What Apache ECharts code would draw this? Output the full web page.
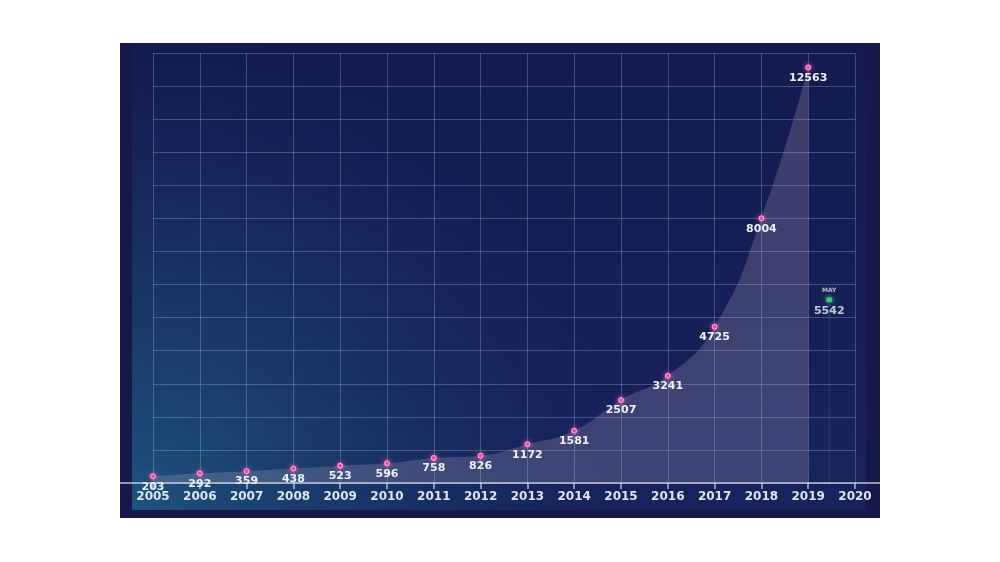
<!DOCTYPE html>
<html><head><meta charset="utf-8">
<script src="https://cdn.jsdelivr.net/npm/echarts@6/dist/echarts.min.js"></script>
<style>html,body{margin:0;padding:0;background:#fff}#c{width:1000px;height:562px}</style>
</head><body><div id="c"></div>
<script>
const years = [2005,2006,2007,2008,2009,2010,2011,2012,2013,2014,2015,2016,2017,2018,2019];
const values = [203,292,359,438,523,596,758,826,1172,1581,2507,3241,4725,8004,12563];
const mayLabel = 'MAY';
const mayX = 2019.45;
const mayValue = 5542;

const chart = echarts.init(document.getElementById('c'));
const font = 'DejaVu Sans';
chart.setOption({
  backgroundColor: '#ffffff',
  animation: false,
  graphic: [
    {type:'rect', z:-10, shape:{x:120,y:43,width:760,height:475}, style:{fill:'#151849'}},
    {type:'rect', z:-9, shape:{x:132,y:44,width:734,height:466},
     style:{fill:{type:'linear',x:0,y:0,x2:0,y2:1,colorStops:[
       {offset:0,color:'#141a4f'},{offset:1,color:'#17245c'}]}}},
    {type:'rect', z:-8, shape:{x:132,y:44,width:734,height:466},
     style:{fill:{type:'radial',x:0,y:1,r:1.05,colorStops:[
       {offset:0,color:'rgba(30,88,128,0.9)'},{offset:0.5,color:'rgba(28,72,115,0.45)'},{offset:1,color:'rgba(24,40,96,0)'}]}}},
    {type:'line', z:5, shape:{x1:120,y1:483,x2:880,y2:483}, style:{stroke:'rgba(225,232,245,0.8)',lineWidth:1.5}}
  ],
  grid: {left:153, right:145, top:53, bottom:79},
  xAxis: {
    type:'value', min:2005, max:2020, interval:1,
    axisLine:{show:false},
    axisTick:{show:true, length:6, lineStyle:{color:'rgba(220,228,245,0.75)',width:1.5}},
    axisLabel:{color:'#dce4f2', fontFamily:font, fontWeight:'bold', fontSize:12, margin:8,
      formatter: v => String(v)},
    splitLine:{show:true, lineStyle:{color:'rgba(190,200,235,0.28)',width:1}}
  },
  yAxis: {
    type:'value', min:0, max:13000, interval:1000,
    axisLine:{show:false}, axisTick:{show:false}, axisLabel:{show:false},
    splitLine:{show:true, lineStyle:{color:'rgba(190,200,235,0.28)',width:1}}
  },
  series: [
    {
      type:'line', smooth:0.5,
      data: years.map((y,i)=>[y,values[i]]),
      symbol:'circle', symbolSize:5,
      itemStyle:{color:'#f04aa6', borderColor:'rgba(255,190,230,0.9)', borderWidth:1, shadowBlur:5, shadowColor:'#ff4fae'},
      lineStyle:{width:0},
      areaStyle:{color:'rgba(210,190,215,0.3)', origin:'start'},
      label:{show:true, position:'bottom', distance:2, color:'#eef0f6', fontFamily:font, fontWeight:'bold', fontSize:11},
      z:3
    },
    {
      type:'line', data:[[mayX,mayValue],[mayX,0]], symbol:'none',
      lineStyle:{type:'dotted', color:'rgba(200,210,235,0.3)', width:1}, z:2, silent:true
    },
    {
      type:'scatter', data:[[mayX,mayValue]], symbol:'roundRect', symbolSize:[6,5],
      itemStyle:{color:'#3ee07a', shadowBlur:5, shadowColor:'#3ee07a'},
      label:{show:true, position:'bottom', distance:3, color:'#eef0f6', fontFamily:font, fontWeight:'bold', fontSize:11,
        formatter: () => String(mayValue)},
      z:4
    },
    {
      type:'scatter', data:[[mayX,mayValue]], symbolSize:0,
      label:{show:true, position:'top', distance:6, color:'#e0e4f0', fontFamily:font, fontWeight:'bold', fontSize:6,
        formatter: () => mayLabel},
      z:4
    }
  ]
});
</script></body></html>
